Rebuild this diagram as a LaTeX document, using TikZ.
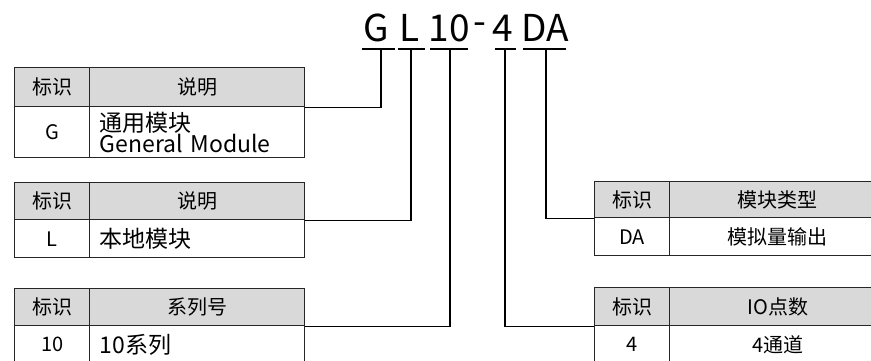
\documentclass[tikz,border=0pt]{standalone}
\usepackage{fontspec}
\setmainfont{Noto Sans CJK SC}
\begin{document}
\begin{tikzpicture}[x=1pt,y=-1pt]
\tikzset{
  cell/.style={draw=black!85, line width=1.4pt, inner sep=0pt, anchor=north west, font=\fontsize{20}{22}\selectfont},
  hdr/.style={cell, fill=black!15},
  bodyl/.style={cell, align=left, inner xsep=10pt, font=\fontsize{23}{21}\selectfont},
  big/.style={anchor=base, inner sep=0pt, font=\fontsize{37}{40}\selectfont},
  conn/.style={draw=black, line width=1.4pt},
}
\clip (0,0) rectangle (871,361);
% top code
\node[big] (tG) at (376,42) {G};
\node[big] (tL) at (410,42) {L};
\node[big] (t10) at (449,42) {10};
\node[big] (tdash) at (480,35) {-};
\node[big] (t4) at (503,42) {4};
\node[big] (tDA) at (545,42) {DA};
\coordinate (cG) at (381,49);
\coordinate (cL) at (411,49);
\coordinate (c10) at (450,49);
\coordinate (c4) at (505,49);
\coordinate (cDA) at (546,49);
\draw[conn] (362,49) -- (395,49);
\draw[conn] (398,49) -- (425,49);
\draw[conn] (430,49) -- (468,49);
\draw[conn] (495,49) -- (516,49);
\draw[conn] (523,49) -- (566,49);
% table 1
\node[hdr, minimum width=75, minimum height=39] (t1a) at (14,67) {标识};
\node[hdr, minimum width=215, minimum height=39] (t1b) at (89,67) {说明};
\node[cell, minimum width=75, minimum height=51] (t1c) at (14,106) {G};
\node[bodyl, text width=195, minimum height=51] (t1d) at (89,106) {通用模块\\General Module};
% table 2
\node[hdr, minimum width=75, minimum height=37] (t2a) at (14,182) {标识};
\node[hdr, minimum width=215, minimum height=37] (t2b) at (89,182) {说明};
\node[cell, minimum width=75, minimum height=38] (t2c) at (14,219) {L};
\node[bodyl, text width=195, minimum height=38] (t2d) at (89,219) {本地模块};
% table 3
\node[hdr, minimum width=75, minimum height=37] (t3a) at (14,288) {标识};
\node[hdr, minimum width=215, minimum height=37] (t3b) at (89,288) {系列号};
\node[cell, minimum width=75, minimum height=38] (t3c) at (14,325) {10};
\node[bodyl, text width=195, minimum height=38] (t3d) at (89,325) {10系列};
% table 4
\node[hdr, minimum width=75, minimum height=36] (t4a) at (594,181) {标识};
\node[hdr, minimum width=216, minimum height=36] (t4b) at (669,181) {模块类型};
\node[cell, minimum width=75, minimum height=38] (t4c) at (594,217) {DA};
\node[cell, minimum width=216, minimum height=38] (t4d) at (669,217) {模拟量输出};
% table 5
\node[hdr, minimum width=75, minimum height=38] (t5a) at (594,287) {标识};
\node[hdr, minimum width=216, minimum height=38] (t5b) at (669,287) {IO点数};
\node[cell, minimum width=75, minimum height=38] (t5c) at (594,325) {4};
\node[cell, minimum width=216, minimum height=38] (t5d) at (669,325) {4通道};
% connectors
\draw[conn] (cG) |- (t1b.south east);
\draw[conn] (cL) |- (t2b.south east);
\draw[conn] (c10) |- (t3b.south east);
\draw[conn] (c4) |- (t5a.south west);
\draw[conn] (cDA) |- (t4a.south west);
\end{tikzpicture}
\end{document}
